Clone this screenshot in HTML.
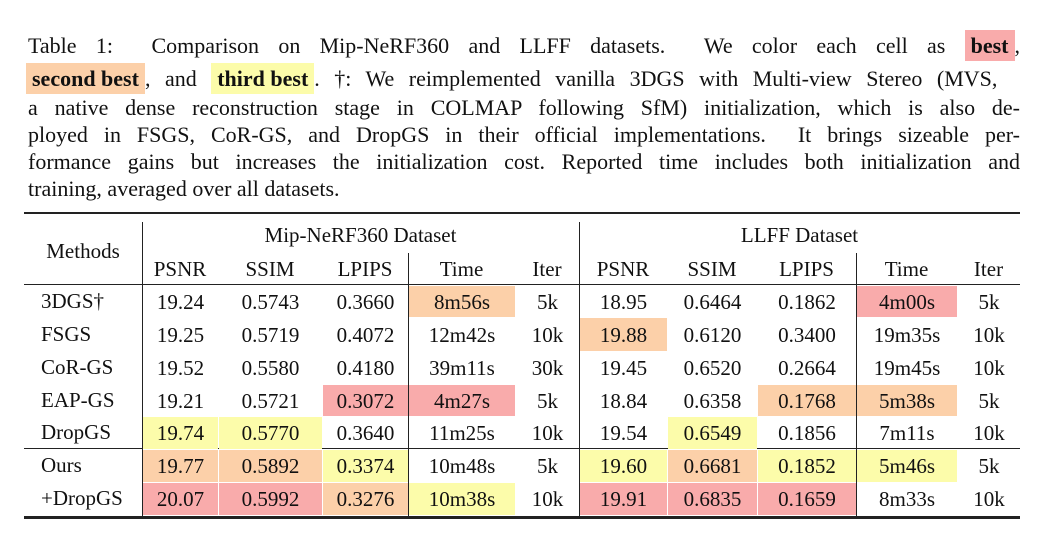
<!DOCTYPE html>
<html><head><meta charset="utf-8">
<style>
body{margin:0;background:#fff;width:1054px;height:549px;overflow:hidden;position:relative;font-family:"Liberation Serif",serif;color:#111;}
.ln{position:absolute;left:28px;width:992px;font-size:22px;line-height:26px;text-align:justify;text-align-last:justify;white-space:nowrap;}
.hl{padding:3px 6px;font-weight:bold;}
.best{background:#f9abab}.second{background:#fcd0a9}.third{background:#fcfcaa}
.rule{position:absolute;background:#222;}
.c{position:absolute;font-size:21px;text-align:center;line-height:33px;}
</style></head><body>
<div>
<div class="ln" style="top:33px">Table 1: &nbsp;Comparison on Mip-NeRF360 and LLFF datasets. &nbsp;We color each cell as <span class="hl best">best</span>,</div>
<div class="ln" style="top:66px;left:26px;width:auto;text-align:left;text-align-last:left;word-spacing:9px"><span class="hl second" style="word-spacing:0">second best</span>, and <span class="hl third" style="word-spacing:0">third best</span>. †: We reimplemented vanilla 3DGS with Multi-view Stereo (MVS,</div>
<div class="ln" style="top:95px">a native dense reconstruction stage in COLMAP following SfM) initialization, which is also de-</div>
<div class="ln" style="top:122px">ployed in FSGS, CoR-GS, and DropGS in their official implementations. &nbsp;It brings sizeable per-</div>
<div class="ln" style="top:149px">formance gains but increases the initialization cost. Reported time includes both initialization and</div>
<div class="ln" style="top:176px;width:auto;text-align-last:auto">training, averaged over all datasets.</div>
</div>
<div id="tbl"></div>
<script>
const methods=["3DGS†","FSGS","CoR-GS","EAP-GS","DropGS","Ours","+DropGS"];
const mipPSNR=["19.24","19.25","19.52","19.21","19.74","19.77","20.07"];
const mipSSIM=["0.5743","0.5719","0.5580","0.5721","0.5770","0.5892","0.5992"];
const mipLPIPS=["0.3660","0.4072","0.4180","0.3072","0.3640","0.3374","0.3276"];
const mipTime=["8m56s","12m42s","39m11s","4m27s","11m25s","10m48s","10m38s"];
const mipIter=["5k","10k","30k","5k","10k","5k","10k"];
const llPSNR=["18.95","19.88","19.45","18.84","19.54","19.60","19.91"];
const llSSIM=["0.6464","0.6120","0.6520","0.6358","0.6549","0.6681","0.6835"];
const llLPIPS=["0.1862","0.3400","0.2664","0.1768","0.1856","0.1852","0.1659"];
const llTime=["4m00s","19m35s","19m45s","5m38s","7m11s","5m46s","8m33s"];
const llIter=["5k","10k","10k","5k","10k","5k","10k"];
// rank codes: 1 best, 2 second, 3 third, 0 none
const rankCols=[
 [0,0,0,0,3,2,1],[0,0,0,0,3,2,1],[0,0,0,1,0,3,2],[2,0,0,1,0,0,3],[0,0,0,0,0,0,0],
 [0,2,0,0,0,3,1],[0,0,0,0,3,2,1],[0,0,0,2,0,3,1],[1,0,0,2,0,3,0],[0,0,0,0,0,0,0]];
const cols=[mipPSNR,mipSSIM,mipLPIPS,mipTime,mipIter,llPSNR,llSSIM,llLPIPS,llTime,llIter];
const heads=["PSNR","SSIM","LPIPS","Time","Iter","PSNR","SSIM","LPIPS","Time","Iter"];
const colL=[142,218,322,408,515,579,667,757,856,957];
const colR=[218,322,408,515,579,667,757,856,957,1020];
const rowTop=[285,317,351,384,416,449,482];
const rowH=[32,34,33,32,33,33,33];
const rankCls=["","best","second","third"];
const root=document.getElementById('tbl');
function add(html){const d=document.createElement('div');d.innerHTML=html;const e=d.firstChild;root.appendChild(e);return e;}
[[24,212,996,2],[24,284,996,1.3],[24,448,996,1.3],[24,516,996,2.5],[142,222,1.3,294],[579,222,1.3,294],[408,253,1.3,263],[856,253,1.3,263]].forEach(r=>{
 const e=add(`<div class="rule" style="left:${r[0]}px;top:${r[1]}px;width:${r[2]}px;height:${r[3]}px"></div>`);
 
 
});
let e=add(`<div class="c" style="left:24px;width:118px;top:235px">Methods</div>`);


e=add(`<div class="c" style="left:142px;width:437px;top:219px">Mip-NeRF360 Dataset</div>`);


e=add(`<div class="c" style="left:579px;width:441px;top:219px">LLFF Dataset</div>`);


heads.forEach((h,i)=>{
 const el=add(`<div class="c" style="left:${colL[i]}px;width:${colR[i]-colL[i]}px;top:253px">${h}</div>`);
 
 
});
methods.forEach((m,r)=>{
 const el=add(`<div class="c" style="left:41px;text-align:left;top:${rowTop[r]}px;height:${rowH[r]}px;line-height:${rowH[r]}px">${m}</div>`);
 
 
 cols.forEach((col,ci)=>{
  const rk=rankCols[ci][r];
  const cell=add(`<div class="c ${rankCls[rk]}" style="left:${colL[ci]+1}px;width:${colR[ci]-colL[ci]-1}px;top:${rowTop[r]+1}px;height:${rowH[r]-1}px;line-height:${rowH[r]}px">${col[r]}</div>`);
  
  
 });
});
</script>
</body></html>
